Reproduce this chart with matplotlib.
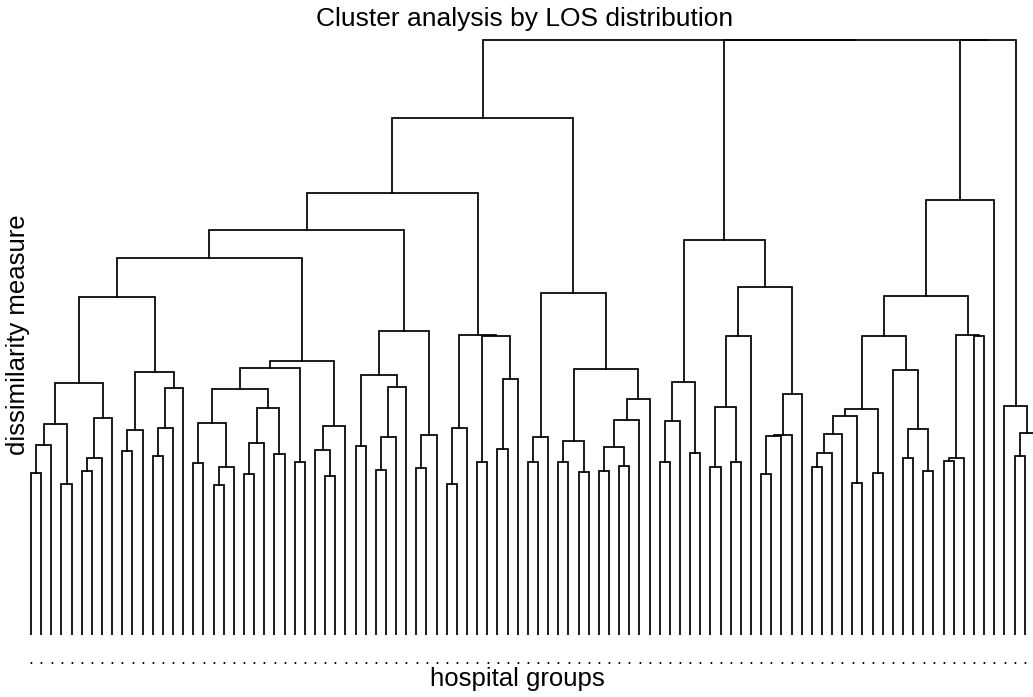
import matplotlib
matplotlib.use('Agg')
import matplotlib.pyplot as plt
import numpy as np

# altura da fusao entre a folha i e a folha i+1
merge_heights = [
    1.62, 1.90, 2.11, 1.51, 2.52, 1.64, 1.77, 2.17, 3.38, 1.84,
    2.05, 2.63, 1.79, 2.07, 2.47, 3.77, 1.72, 2.12, 1.50, 1.68,
    2.46, 1.61, 1.92, 2.27, 1.81, 2.67, 1.73, 2.74, 1.85, 1.59,
    2.09, 4.05, 1.89, 2.60, 1.65, 1.98, 2.48, 3.04, 1.67, 2.00,
    4.42, 1.51, 2.07, 3.00, 1.73, 2.99, 1.86, 2.56, 5.17, 1.73,
    1.98, 3.42, 1.73, 1.94, 1.63, 2.66, 1.64, 1.88, 1.69, 2.15,
    2.36, 5.95, 1.73, 2.14, 2.53, 1.82, 3.95, 1.68, 2.28, 1.73,
    2.99, 3.48, 1.61, 1.99, 2.00, 2.41, 5.95, 1.68, 1.82, 2.01,
    2.19, 1.52, 2.26, 1.62, 2.99, 2.65, 1.77, 2.06, 1.64, 3.39,
    1.74, 1.77, 3.00, 2.99, 4.35, 5.95, 2.29, 1.79, 2.02,
]
n_leaves = len(merge_heights) + 1
# rotulos das folhas saem so como pontos no scan; a ultima fica fora da imagem
leaf_labels = ['.'] * (n_leaves - 1) + ['']

W, H = 1033, 697
fig = plt.figure(figsize=(W / 100, H / 100), dpi=100)
ax = fig.add_axes([20.9 / W, 62 / H, 1024.1 / W, 600 / H])


# desenha o no que cobre as folhas lo..hi, devolve (x, altura)
def build(lo, hi):
    if lo == hi:
        return lo + 1, 0.0
    k = lo + int(np.argmax(merge_heights[lo:hi]))
    xl, hl = build(lo, k)
    xr, hr = build(k + 1, hi)
    h = merge_heights[k]
    ax.plot([xl, xl, xr, xr], [hl, h, h, hr], color='k', lw=1.25,
            solid_joinstyle='miter')
    return (xl + xr) / 2, h


build(0, n_leaves - 1)

ax.set_xlim(0, n_leaves + 1)
ax.set_ylim(0, 6.0)
for s in ax.spines.values():
    s.set_visible(False)
ax.set_yticks([])
ax.set_xticks(np.arange(1, n_leaves + 1))
ax.set_xticklabels(leaf_labels, fontsize=11)
ax.tick_params(axis='x', length=0, pad=12)

font = 'Liberation Sans'
fig.text(525 / W, 1 - 19 / H, 'Cluster analysis by LOS distribution',
         ha='center', va='center', fontsize=19, family=font)
ax.set_xlabel('hospital groups', fontsize=18.5, family=font)
ax.xaxis.set_label_coords((517 - 20.9) / 1024.1, -(679 - 635) / 600)
ax.set_ylabel('dissimilarity measure', fontsize=18.5, family=font)
ax.yaxis.set_label_coords((18 - 20.9) / 1024.1, 0.5)
ax.yaxis.label.set_va('center')
ax.xaxis.label.set_va('center')

fig.savefig('out.png', dpi=100)
